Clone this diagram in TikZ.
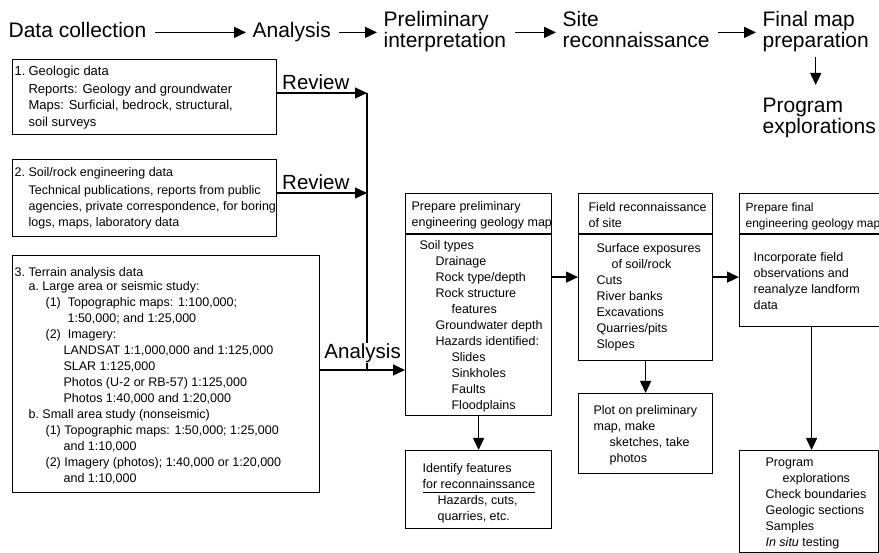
\documentclass[tikz,border=0pt]{standalone}
\usepackage{fontspec}
\setmainfont{Liberation Sans}
\usetikzlibrary{arrows.meta}

\begin{document}
\begin{tikzpicture}[x=1pt, y=-1pt, line width=1.2pt,
		box/.style={draw, anchor=north west, inner sep=0pt},
		txt/.style={anchor=north west, inner sep=0pt, align=left, font=\fontsize{12.5}{16}\selectfont},
		big/.style={anchor=north west, inner sep=0pt, align=left, font=\fontsize{21}{21}\selectfont},
		lbl/.style={inner sep=0pt, font=\fontsize{20.5}{21}\selectfont},
		arr/.style={-{Triangle[length=12pt, width=11pt]}}]
		\useasboundingbox (0,0) rectangle (879,553);
		\clip (0,0) rectangle (879,553);

		% top row
		\node[big] (dc) at (8,22) {Data collection};
		\node[big] (an) at (252,22) {Analysis};
		\node[big] (pi) at (383,11) {Preliminary\\interpretation};
		\node[big] (sr) at (562,11) {Site\\reconnaissance};
		\node[big] (fm) at (762,11) {Final map\\preparation};
		\node[big] (pe) at (762,97) {Program\\explorations};
		\foreach \a/\b in {dc/an, an/pi, pi/sr, sr/fm}
			\draw[arr, shorten <=8pt, shorten >=6pt] (\a.east |- an.west) -- (\b.west |- an.west);
		\draw[arr, shorten <=4pt, shorten >=12pt] (fm.south) -- (fm.south |- pe.north);

		% data boxes
		\node[box, minimum width=264pt, minimum height=75pt] (b1) at (12,59) {};
		\node[box, minimum width=264pt, minimum height=77pt] (b2) at (12,159) {};
		\node[box, minimum width=307pt, minimum height=237pt] (b3) at (12,255) {};
		\node[txt, font=\fontsize{13}{16.5}\selectfont] (b1t) at (14,65) {\makebox[14pt][l]{1.}Geologic data};
		\node[txt, font=\fontsize{13}{16.5}\selectfont] (b1x) at (28,83) {Reports: Geology and groundwater\\Maps: Surficial, bedrock, structural,\\soil surveys};
		\node[txt] (b2t) at (14,167) {\makebox[14pt][l]{2.}Soil/rock engineering data};
		\node[txt] (b2x) at (28,185) {Technical publications, reports from public\\agencies, private correspondence, for boring\\logs, maps, laboratory data};
		\node[txt] (b3t) at (14,267) {\makebox[14pt][l]{3.}Terrain analysis data};
		\node[txt] (b3x) at (28,281) {a.\ Large area or seismic study:\\
			\hspace*{17pt}(1)\ \ Topographic maps: 1:100,000;\\
			\hspace*{39pt}1:50,000; and 1:25,000\\
			\hspace*{17pt}(2)\ \ Imagery:\\
			\hspace*{35pt}LANDSAT 1:1,000,000 and 1:125,000\\
			\hspace*{35pt}SLAR 1:125,000\\
			\hspace*{35pt}Photos (U-2 or RB-57) 1:125,000\\
			\hspace*{35pt}Photos 1:40,000 and 1:20,000\\
			b.\ Small area study (nonseismic)\\
			\hspace*{17pt}(1) Topographic maps: 1:50,000; 1:25,000\\
			\hspace*{35pt}and 1:10,000\\
			\hspace*{17pt}(2) Imagery (photos); 1:40,000 or 1:20,000\\
			\hspace*{35pt}and 1:10,000};

		% review and analysis feed
		\coordinate (j1) at (367,93);
		\coordinate (j2) at (367,193);
		\coordinate (j3) at (367,370);
		\draw[arr] (b1.east |- j1) -- node[lbl, above=3pt, pos=0.43] (rv1) {Review} (j1);
		\draw[arr] (b2.east |- j2) -- node[lbl, above=3pt, pos=0.43] (rv2) {Review} (j2);
		\draw (j1) -- (j3);

		% map boxes
		\node[box, minimum width=146pt, minimum height=222pt] (pp) at (405,193) {};
		\node[box, minimum width=134pt, minimum height=167pt] (fr) at (578,193) {};
		\node[box, minimum width=144pt, minimum height=133pt] (fp) at (739,193) {};
		\node[box, minimum width=146pt, minimum height=78pt] (id) at (405,450) {};
		\node[box, minimum width=134pt, minimum height=80pt] (pl) at (578,393) {};
		\node[box, minimum width=139pt, minimum height=102pt] (px) at (739,450) {};
		\foreach \b in {pp, fr, fp}
			\draw ([yshift=-41pt]\b.north west) -- ([yshift=-41pt]\b.north east);

		\draw[arr] (b3.east |- j3) -- node[lbl, above=6pt, fill=white, inner sep=0.5pt] (an2) {Analysis} (j3 -| pp.west);

		\node[txt] (ppt) at (411,201) {Prepare preliminary\\engineering geology map};
		\node[txt] (ppx) at (419,240) {Soil types\\
			\hspace*{16pt}Drainage\\
			\hspace*{16pt}Rock type/depth\\
			\hspace*{16pt}Rock structure\\
			\hspace*{32pt}features\\
			\hspace*{16pt}Groundwater depth\\
			\hspace*{16pt}Hazards identified:\\
			\hspace*{32pt}Slides\\
			\hspace*{32pt}Sinkholes\\
			\hspace*{32pt}Faults\\
			\hspace*{32pt}Floodplains};
		\node[txt] (frt) at (588,202) {Field reconnaissance\\of site};
		\node[txt] (frx) at (596,243) {Surface exposures\\ \hspace*{15pt}of soil/rock\\Cuts\\River banks\\Excavations\\Quarries/pits\\Slopes};
		\node[txt, font=\fontsize{12}{16}\selectfont] (fpt) at (745,202) {Prepare final\\engineering geology map};
		\node[txt] (fpx) at (753,252) {Incorporate field\\observations and\\reanalyze landform\\data};
		\node[txt] (idx) at (422,463) {Identify features\\\underline{for reconnainssance\rule[-2.5pt]{0pt}{1pt}}\\ \hspace*{15pt}Hazards, cuts,\\ \hspace*{15pt}quarries, etc.};
		\node[txt] (plx) at (593,405) {Plot on preliminary\\map, make\\ \hspace*{16pt}sketches, take\\ \hspace*{16pt}photos};
		\node[txt] (pxx) at (765,457) {Program\\ \hspace*{17pt}explorations\\Check boundaries\\Geologic sections\\Samples\\\textit{In situ} testing};

		\draw[arr] (pp.east |- fr.west) -- (fr.west);
		\draw[arr] (fr.east) -- (fr.east -| fp.west);
		\draw[arr] (pp.south) -- (id.north);
		\draw[arr] (fr.south) -- (pl.north);
		\draw[arr] (fp.south) -- (fp.south |- px.north);
	\end{tikzpicture}
\end{document}
